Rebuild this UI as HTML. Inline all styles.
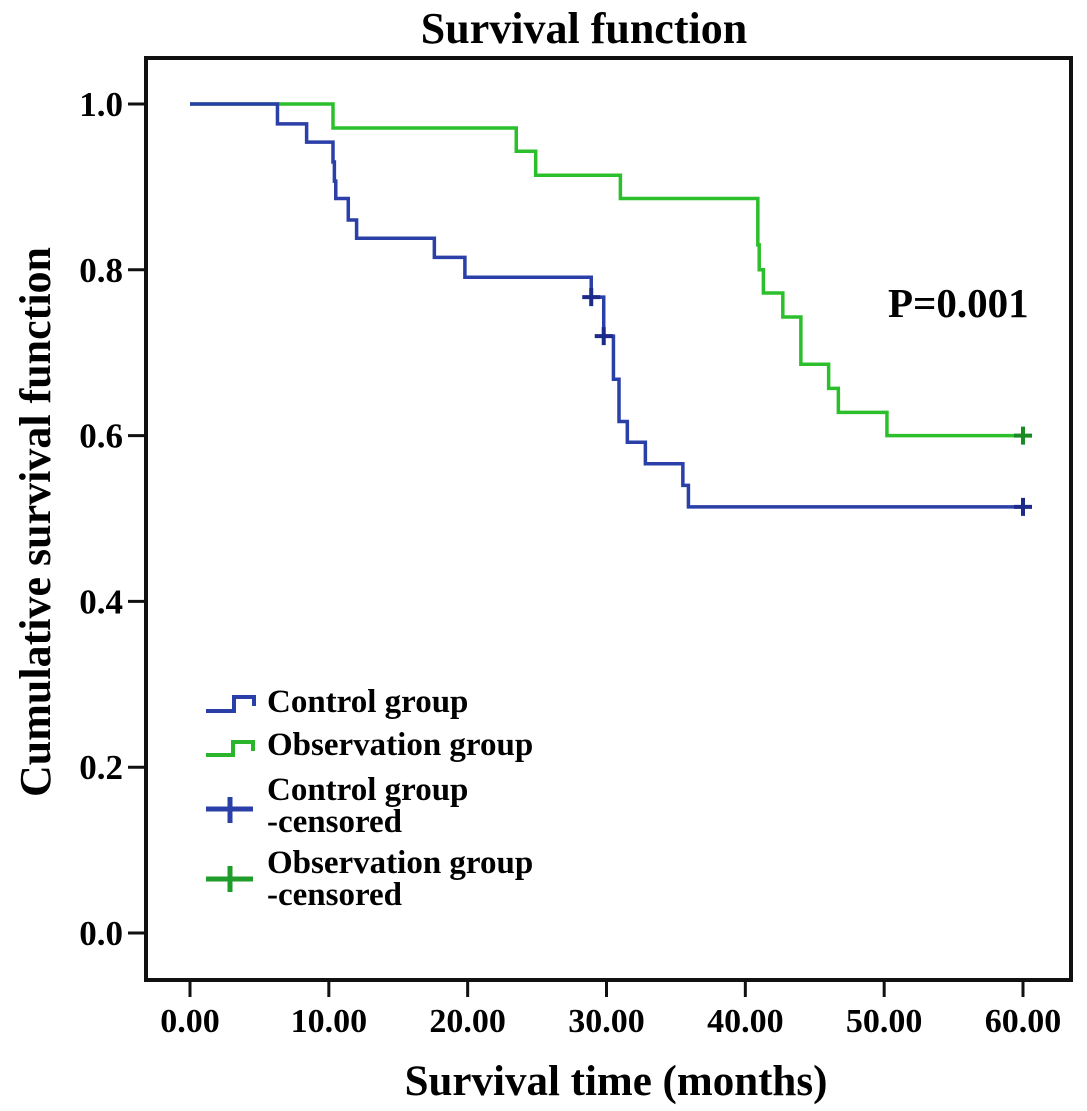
<!DOCTYPE html>
<html><head><meta charset="utf-8"><style>
html,body{margin:0;padding:0;background:#fff;}
svg{display:block;font-family:"Liberation Serif",serif;font-weight:bold;}
</style></head><body>
<svg id="chart" width="1087" height="1111" viewBox="0 0 1087 1111" xmlns="http://www.w3.org/2000/svg">
<rect width="1087" height="1111" fill="#fff"/>
<text x="584" y="43" font-size="44" text-anchor="middle">Survival function</text>
<rect x="146" y="58" width="925" height="922" fill="none" stroke="#111" stroke-width="4"/>
<g id="yaxis"></g>
<g id="xaxis"></g>
<text transform="translate(50,522) rotate(-90)" font-size="44" text-anchor="middle">Cumulative survival function</text>
<text x="616" y="1095" font-size="43" text-anchor="middle">Survival time (months)</text>
<text x="888" y="317" font-size="41">P=0.001</text>
<g id="series"></g>
<g font-size="33">
  <path d="M206,711 H234 V697 H254 V706" fill="none" stroke="#2a3fa8" stroke-width="4"/>
  <text x="267" y="712">Control group</text>
  <path d="M206,755 H233 V742 H253 V751" fill="none" stroke="#2bb52b" stroke-width="4"/>
  <text x="267" y="755">Observation group</text>
  <path d="M206,809 H253 M230,797 V823" stroke="#2a3fa8" stroke-width="5"/>
  <text x="267" y="800">Control group</text>
  <text x="267" y="832">-censored</text>
  <path d="M206,879 H253 M230,866 V892" stroke="#1f9c2a" stroke-width="5"/>
  <text x="267" y="873">Observation group</text>
  <text x="267" y="905">-censored</text>
</g>
</svg>
<script>
const xTicks = [0, 10, 20, 30, 40, 50, 60];
const xTickLabels = ["0.00", "10.00", "20.00", "30.00", "40.00", "50.00", "60.00"];
const yTicks = [0, 0.2, 0.4, 0.6, 0.8, 1.0];
const yTickLabels = ["0.0", "0.2", "0.4", "0.6", "0.8", "1.0"];
const controlTimes = [6.3, 8.4, 10.3, 10.4, 10.5, 11.4, 12.0, 17.6, 19.8, 28.9, 29.8, 30.5, 30.9, 31.5, 32.8, 35.5, 35.9];
const controlSurv = [0.976, 0.954, 0.930, 0.907, 0.886, 0.860, 0.838, 0.815, 0.791, 0.767, 0.720, 0.668, 0.617, 0.592, 0.566, 0.540, 0.514];
const controlCensorTimes = [28.9, 29.8, 60];
const controlCensorSurv = [0.767, 0.720, 0.514];
const obsTimes = [10.3, 23.5, 24.9, 31.0, 40.9, 41.0, 41.3, 42.7, 44.0, 46.0, 46.7, 50.2];
const obsSurv = [0.971, 0.943, 0.914, 0.886, 0.830, 0.800, 0.772, 0.743, 0.686, 0.657, 0.628, 0.600];
const obsCensorTimes = [60];
const obsCensorSurv = [0.600];

const NS = "http://www.w3.org/2000/svg";
function xs(t){ return 190 + t * (1023 - 190) / 60; }
function ys(s){ return 933 - s * (933 - 104); }

const yaxis = document.getElementById('yaxis');
yTicks.forEach((v, i) => {
  const l = document.createElementNS(NS, 'line');
  l.setAttribute('x1', 128); l.setAttribute('x2', 146);
  l.setAttribute('y1', ys(v)); l.setAttribute('y2', ys(v));
  l.setAttribute('stroke', '#111'); l.setAttribute('stroke-width', 3);
  
  
  yaxis.appendChild(l);
  const t = document.createElementNS(NS, 'text');
  t.setAttribute('x', 123); t.setAttribute('y', ys(v) + 12);
  t.setAttribute('text-anchor', 'end'); t.setAttribute('font-size', 35);
  t.textContent = yTickLabels[i];
  
  
  yaxis.appendChild(t);
});
const xaxis = document.getElementById('xaxis');
xTicks.forEach((v, i) => {
  const l = document.createElementNS(NS, 'line');
  l.setAttribute('x1', xs(v)); l.setAttribute('x2', xs(v));
  l.setAttribute('y1', 980); l.setAttribute('y2', 997);
  l.setAttribute('stroke', '#111'); l.setAttribute('stroke-width', 3);
  
  
  xaxis.appendChild(l);
  const t = document.createElementNS(NS, 'text');
  t.setAttribute('x', xs(v)); t.setAttribute('y', 1032);
  t.setAttribute('text-anchor', 'middle'); t.setAttribute('font-size', 34);
  t.textContent = xTickLabels[i];
  
  
  xaxis.appendChild(t);
});

const series = document.getElementById('series');
function stepPath(times, surv){
  let d = 'M' + xs(0) + ',' + ys(1);
  times.forEach((t, i) => { d += ' H' + xs(t) + ' V' + ys(surv[i]); });
  d += ' H' + xs(60);
  return d;
}
const cPath = document.createElementNS(NS, 'path');
cPath.setAttribute('d', stepPath(controlTimes, controlSurv));
cPath.setAttribute('fill', 'none'); cPath.setAttribute('stroke', '#2a3fa8'); cPath.setAttribute('stroke-width', 3.5);


const oPath = document.createElementNS(NS, 'path');
oPath.setAttribute('d', stepPath(obsTimes, obsSurv));
oPath.setAttribute('fill', 'none'); oPath.setAttribute('stroke', '#2bc02b'); oPath.setAttribute('stroke-width', 3.5);


series.appendChild(oPath);
series.appendChild(cPath);
function censor(times, surv, color, name){
  times.forEach((t, i) => {
    const p = document.createElementNS(NS, 'path');
    const x = xs(t), y = ys(surv[i]);
    p.setAttribute('d', 'M' + (x - 9) + ',' + y + ' H' + (x + 9) + ' M' + x + ',' + (y - 9) + ' V' + (y + 9));
    p.setAttribute('stroke', color); p.setAttribute('stroke-width', 4);
    
    
    series.appendChild(p);
  });
}
censor(controlCensorTimes, controlCensorSurv, '#1c2a8a', 'control-censored-mark');
censor(obsCensorTimes, obsCensorSurv, '#1a8a22', 'observation-censored-mark');
</script>
</body></html>
